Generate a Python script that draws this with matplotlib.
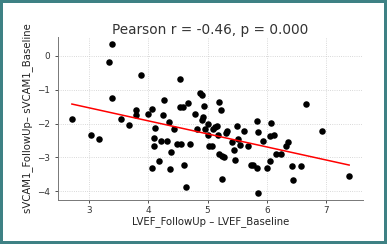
import numpy as np
import matplotlib
matplotlib.use("Agg")
import matplotlib.pyplot as plt

lvef_diff = [2.71, 3.03, 3.17, 3.34, 3.38, 3.38, 3.54, 3.67, 3.80, 3.80,
             3.88, 4.00, 4.07, 4.09, 4.07, 4.10, 4.11, 4.18, 4.21, 4.24,
             4.27, 4.31, 4.35, 4.39, 4.37, 4.43, 4.48, 4.53, 4.53, 4.58,
             4.55, 4.60, 4.64, 4.67, 4.70, 4.78, 4.82, 4.88, 4.90, 4.90,
             4.92, 4.94, 4.95, 5.00, 5.00, 5.02, 5.07, 5.10, 5.13, 5.16,
             5.18, 5.20, 5.20, 5.23, 5.24, 5.24, 5.28, 5.31, 5.33, 5.41,
             5.45, 5.47, 5.50, 5.51, 5.55, 5.61, 5.68, 5.74, 5.76, 5.83,
             5.83, 5.85, 5.85, 5.93, 6.00, 6.05, 6.05, 6.07, 6.12, 6.15,
             6.24, 6.32, 6.36, 6.42, 6.45, 6.57, 6.66, 6.93, 7.39]
svcam_diff = [-1.88, -2.34, -2.46, -0.20, 0.33, -1.24, -1.88, -2.03, -1.76, -1.59,
              -0.58, -1.72, -1.56, -2.43, -3.30, -2.66, -2.12, -3.11, -2.52, -1.76,
              -1.30, -2.53, -1.95, -2.83, -3.35, -2.16, -2.59, -0.69, -1.52, -1.51,
              -2.60, -3.22, -3.86, -1.39, -2.60, -1.71, -2.16, -1.11, -1.16, -1.91,
              -1.82, -1.49, -2.16, -2.01, -2.35, -2.66, -2.65, -2.15, -2.10, -2.06,
              -2.35, -1.36, -2.91, -1.60, -2.95, -3.63, -2.99, -2.27, -2.21, -2.55,
              -2.79, -3.07, -2.08, -2.47, -2.64, -2.21, -2.67, -3.21, -3.21, -1.94,
              -3.32, -2.24, -4.04, -2.53, -3.31, -2.38, -3.12, -1.98, -2.35, -2.90,
              -2.89, -2.66, -2.55, -3.26, -3.67, -3.25, -1.42, -2.23, -3.56]

title = "Pearson r = -0.46, p = 0.000"
xlabel = "LVEF_FollowUp \u2013 LVEF_Baseline"
ylabel = "sVCAM1_FollowUp\u2013 sVCAM1_Baseline"

x = np.array(lvef_diff)
y = np.array(svcam_diff)
slope, intercept = np.polyfit(x, y, 1)
xs = np.sort(x)

fig = plt.figure(figsize=(3.87, 2.44), dpi=100, facecolor="white",
                 edgecolor="#3e8184", linewidth=4.3)
ax = fig.add_axes([0.150, 0.180, 0.788, 0.668])
ax.scatter(x, y, s=22, color="black", zorder=3, linewidths=0)
ax.plot(xs, slope * xs + intercept, color="red", lw=1.1, zorder=4)

ax.set_title(title, fontsize=9.8, color="#333333", pad=2)
ax.set_xlabel(xlabel, fontsize=7.3, color="#222222", labelpad=1)
ax.set_ylabel(ylabel, fontsize=7.3, color="#222222", labelpad=3)
ax.set_xticks([3, 4, 5, 6, 7])
ax.set_yticks([0, -1, -2, -3, -4])
ax.set_yticklabels(["0", "\u22121", "\u22122", "\u22123", "\u22124"])
ax.tick_params(labelsize=6.4, colors="#333333", length=2, width=0.6)
ax.tick_params(axis="x", pad=2)
ax.grid(True, linestyle=":", color="#cccccc", linewidth=0.6)
for s in ["top", "right"]:
    ax.spines[s].set_visible(False)
for s in ["left", "bottom"]:
    ax.spines[s].set_color("#777777")
    ax.spines[s].set_linewidth(0.7)

fig.savefig("out.png", dpi=100, facecolor="white", edgecolor=fig.get_edgecolor())
